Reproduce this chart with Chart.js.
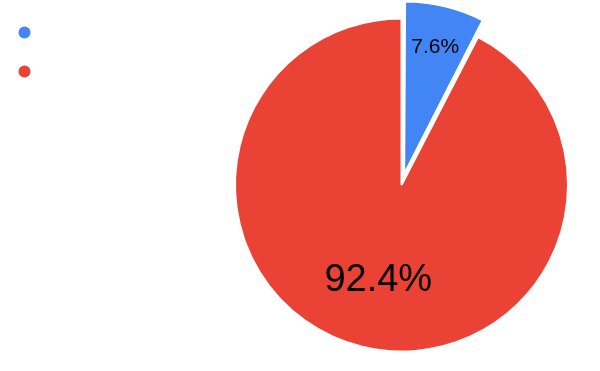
<!DOCTYPE html>
<html>
<head>
<meta charset="utf-8">
<script src="https://cdn.jsdelivr.net/npm/chart.js@4"></script>
<style>
  html, body { margin: 0; padding: 0; background: #fff; }
  #wrap { width: 600px; height: 371px; position: relative; }
</style>
</head>
<body>
<div id="wrap"><canvas id="mycanvas"></canvas></div>
<script>
// data
var labels = ['', ''];
var shares = [7.6, 92.4];
var colors = ['#4285F4', '#EA4335'];

// legend dots on the left (labels are empty in the reference)
var dotLegend = {
  id: 'dotLegend',
  afterDraw: function(chart) {
    var ctx = chart.ctx;
    var ds = chart.data.datasets[0];
    ctx.save();
    for (var i = 0; i < ds.data.length; i++) {
      ctx.beginPath();
      ctx.fillStyle = ds.backgroundColor[i];
      ctx.arc(24.5, 32.5 + i * 39, 6, 0, Math.PI * 2);
      ctx.fill();
    }
    ctx.restore();
  }
};

// percentage labels inside the slices
var sliceText = {
  id: 'sliceText',
  afterDatasetsDraw: function(chart, args, opts) {
    var ctx = chart.ctx;
    var meta = chart.getDatasetMeta(0);
    var ds = chart.data.datasets[0];
    ctx.save();
    ctx.fillStyle = '#000';
    ctx.textAlign = 'center';
    ctx.textBaseline = 'middle';
    meta.data.forEach(function(arc, i) {
      var p = arc.getProps(['x', 'y', 'startAngle', 'endAngle', 'outerRadius', 'circumference'], true);
      var mid = (p.startAngle + p.endAngle) / 2;
      // same shift the arc element applies for its offset
      var o = (ds.offset[i] || 0) / 4;
      var shift = o + o * (1 - Math.sin(Math.min(Math.PI, p.circumference || 0)));
      var d = shift + opts.dist[i] * p.outerRadius;
      ctx.font = opts.size[i] + 'px "Liberation Sans", Arial, sans-serif';
      ctx.fillText(ds.data[i].toFixed(1) + '%', p.x + Math.cos(mid) * d, p.y + Math.sin(mid) * d);
    });
    ctx.restore();
  }
};

var ctx = document.getElementById('mycanvas');
var pie = new Chart(ctx, {
  type: 'pie',
  data: {
    labels: labels,
    datasets: [{
      data: shares,
      backgroundColor: colors,
      borderColor: '#fff',
      borderWidth: 2,
      offset: [45, 0],
      radius: 166.5
    }]
  },
  options: {
    responsive: true,
    maintainAspectRatio: false,
    animation: false,
    layout: { padding: { left: 203, right: 0, top: 0, bottom: 1 } },
    plugins: {
      legend: { display: false },
      tooltip: { enabled: false },
      sliceText: { dist: [0.75, 0.59], size: [21, 38] }
    }
  },
  plugins: [dotLegend, sliceText]
});
</script>
</body>
</html>
